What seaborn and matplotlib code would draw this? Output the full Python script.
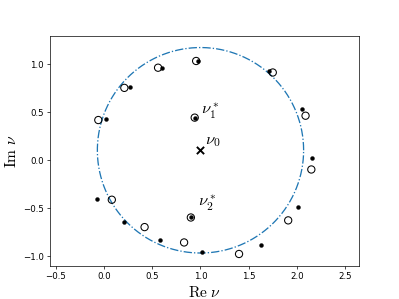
import numpy as np
import matplotlib
matplotlib.use("Agg")
import matplotlib.pyplot as plt
import seaborn as sns

plt.rcParams['mathtext.fontset'] = 'cm'

# open circles (re, im)
open_re = [-0.06, 0.21, 0.56, 0.955, 1.75, 2.09, 2.15, 1.91, 1.40, 0.83, 0.42, 0.08]
open_im = [0.415, 0.75, 0.96, 1.03, 0.91, 0.46, -0.10, -0.63, -0.98, -0.86, -0.70, -0.415]
# filled dots (re, im)
dot_re = [0.02, 0.27, 0.605, 0.97, 1.71, 2.05, 2.16, 2.01, 1.63, 1.02, 0.58, 0.21, -0.07]
dot_im = [0.43, 0.76, 0.96, 1.03, 0.93, 0.53, 0.02, -0.49, -0.89, -0.955, -0.83, -0.65, -0.405]
# special points
star_re = [0.94, 0.90]
star_im = [0.44, -0.60]
star_labels = [r'$\nu_1^*$', r'$\nu_2^*$']
nu0 = (1.0, 0.1)
radius = 1.07

fig, ax = plt.subplots(figsize=(6.4, 4.8), dpi=62.35)

theta = np.linspace(0, 2 * np.pi, 400)
sns.lineplot(x=nu0[0] + radius * np.cos(theta), y=nu0[1] + radius * np.sin(theta),
             sort=False, estimator=None, color='#1f77b4', linestyle='-.', linewidth=1.5, ax=ax)

sns.scatterplot(x=open_re + star_re, y=open_im + star_im, s=70, facecolor='none',
                edgecolor='black', linewidth=1.2, ax=ax, zorder=3)
sns.scatterplot(x=dot_re + star_re, y=dot_im + star_im, s=20, color='black',
                edgecolor='black', linewidth=0.5, ax=ax, zorder=4)
sns.scatterplot(x=[nu0[0]], y=[nu0[1]], marker='x', s=70, color='black',
                linewidth=2.2, ax=ax, zorder=4)

ax.text(star_re[0] + 0.07, star_im[0] + 0.07, star_labels[0], fontsize=19, va='center', ha='left')
ax.text(star_re[1] + 0.07, star_im[1] + 0.15, star_labels[1], fontsize=19, va='center', ha='left')
ax.text(nu0[0] + 0.05, nu0[1] + 0.09, r'$\nu_0$', fontsize=19, va='center', ha='left')

ax.set_xlim(-0.5625, 2.646)
ax.set_ylim(-1.106, 1.294)
ax.set_xticks([-0.5, 0.0, 0.5, 1.0, 1.5, 2.0, 2.5])
ax.set_yticks([-1.0, -0.5, 0.0, 0.5, 1.0])
ax.set_xlabel(r'$\mathrm{Re}\ \nu$', fontsize=18)
ax.set_ylabel(r'$\mathrm{Im}\ \nu$', fontsize=18)

fig.savefig('out.png', dpi=62.35)
